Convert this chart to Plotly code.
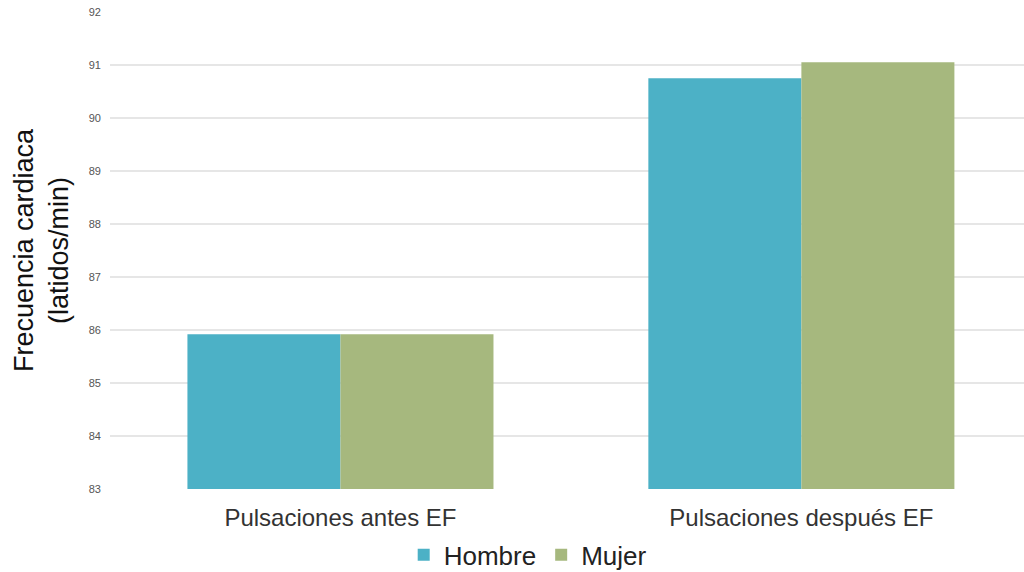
import plotly.graph_objects as go

categories = ["Pulsaciones antes EF", "Pulsaciones después EF"]
hombre = [85.92, 90.75]
mujer = [85.92, 91.05]
y_ticks = [83, 84, 85, 86, 87, 88, 89, 90, 91, 92]

FONT = "Liberation Sans, Arial, sans-serif"

fig = go.Figure()
fig.add_trace(go.Bar(name="Hombre", x=categories, y=hombre,
                     marker=dict(color="#4cb1c6", line=dict(width=0))))
fig.add_trace(go.Bar(name="Mujer", x=categories, y=mujer,
                     marker=dict(color="#a6b87e", line=dict(width=0))))

fig.update_layout(
    width=1024, height=572,
    margin=dict(l=110, r=0, t=12, b=83, autoexpand=False),
    paper_bgcolor="white", plot_bgcolor="white",
    barmode="group", bargap=0.336, bargroupgap=0,
    font=dict(family=FONT, color="#333333"),
    showlegend=True,
    legend=dict(orientation="h", x=0.457, xanchor="center",
                yref="container", y=0.03, yanchor="middle",
                font=dict(size=26, color="#222222", family=FONT),
                itemwidth=30, traceorder="normal", bgcolor="rgba(0,0,0,0)"),
    xaxis=dict(range=[-0.5, 1.483], showgrid=False, zeroline=False, showline=False,
               ticks="", automargin=False, ticklabelstandoff=12,
               tickfont=dict(size=24, color="#333333", family=FONT)),
    yaxis=dict(range=[83, 92], tickvals=y_ticks, showgrid=True, gridcolor="#e6e6e6",
               gridwidth=1.5, zeroline=False, showline=False, ticks="",
               automargin=False, ticklabelstandoff=8,
               tickfont=dict(size=11, color="#555555", family=FONT),
               title=dict(text="Frecuencia cardiaca<br>(latidos/min)",
                          font=dict(size=27, color="#111111", family=FONT),
                          standoff=12)),
)

fig.write_html("out.html")
